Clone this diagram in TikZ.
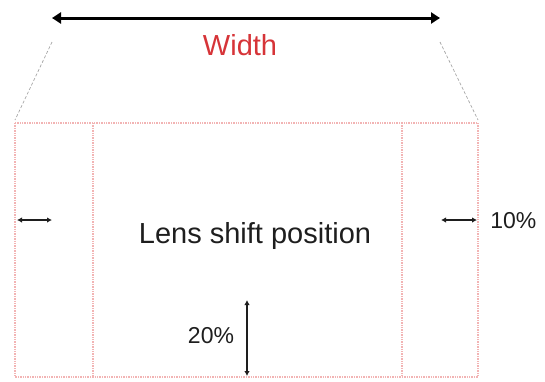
\documentclass[tikz,border=0pt]{standalone}
\usepackage{fontspec}
\setmainfont{Liberation Sans}
\usetikzlibrary{arrows.meta}

\definecolor{widthred}{RGB}{214,52,56}
\definecolor{framepink}{RGB}{242,180,180}
\definecolor{inkgray}{RGB}{30,30,30}

\begin{document}
\begin{tikzpicture}[x=1pt, y=-1pt, semithick, color=inkgray,
        frame/.style={draw=framepink, densely dotted, line width=1.4pt},
        guide/.style={draw=gray!70, densely dashed, line width=0.7pt},
        span/.style={{Triangle[length=9pt,width=11pt]}-{Triangle[length=9pt,width=11pt]}, line width=3pt, draw=black},
        gap/.style={{Latex[length=5pt,width=5.5pt]}-{Latex[length=5pt,width=5.5pt]}, line width=1.2pt},
        lbl/.style={font=\fontsize{23}{27}\selectfont}]
            \useasboundingbox (0, 0) rectangle (545, 381);

            % outer and inner frame
            \draw[frame] (15, 123) rectangle (478, 377);
            \draw[frame] (93, 123) -- (93, 377);
            \draw[frame] (402, 123) -- (402, 377);

            % projected width
            \coordinate (wl) at (52, 18);
            \coordinate (wr) at (440, 18);
            \draw[span] (wl) -- (wr);
            \node[text=widthred, font=\fontsize{29}{34}\selectfont, anchor=base] (width) at (240, 55) {Width};
            \draw[guide] (52, 42) -- (15, 120);
            \draw[guide] (440, 42) -- (478, 120);

            \node[font=\fontsize{29}{34}\selectfont, anchor=base] (lens) at (255, 243) {Lens shift position};

            % side margins
            \draw[gap] (17, 220) -- (52, 220);
            \draw[gap] (441, 220) -- (477, 220);
            \node[lbl, anchor=base west, inner xsep=0pt] (side) at (490, 228) {10\%};

            % vertical shift
            \draw[gap] (247, 300) -- (247, 376);
            \node[lbl, anchor=base] (shift) at (211, 343) {20\%};
        \end{tikzpicture}
\end{document}
